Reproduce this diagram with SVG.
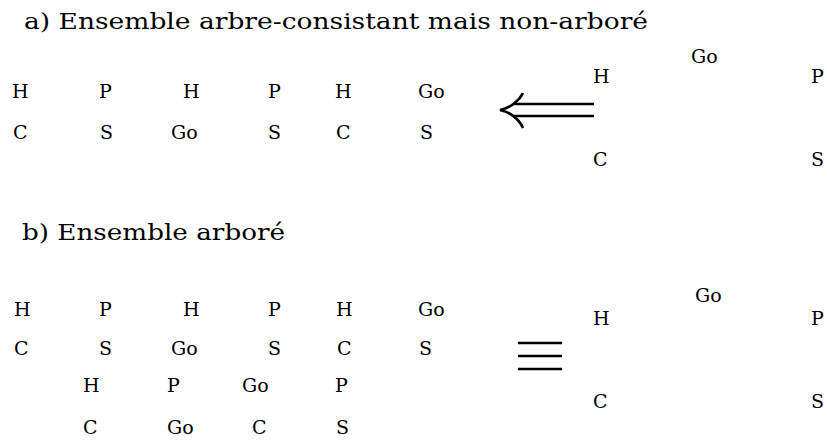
<svg xmlns="http://www.w3.org/2000/svg" width="827" height="444" viewBox="0 0 827 444">
<style>
.t{font-size:23px}
.l{font-size:19px}
.s{stroke:#000;fill:none;stroke-width:2.6}
</style>
<rect width="827" height="444" fill="#fff"/>
<g font-family="DejaVu Serif, Liberation Serif, serif" fill="#000">
<text class="t" x="24" y="29" textLength="624" lengthAdjust="spacingAndGlyphs">a) Ensemble arbre-consistant mais non-arboré</text>
<text class="t" x="22" y="240" textLength="263" lengthAdjust="spacingAndGlyphs">b) Ensemble arboré</text>
<g id="a-left">
<text class="l" x="12" y="98">H</text><text class="l" x="99" y="98">P</text><text class="l" x="183" y="98">H</text><text class="l" x="268" y="98">P</text><text class="l" x="335" y="98">H</text><text class="l" x="418" y="98">Go</text>
<text class="l" x="13" y="139">C</text><text class="l" x="100" y="139">S</text><text class="l" x="171" y="139">Go</text><text class="l" x="268" y="139">S</text><text class="l" x="336" y="139">C</text><text class="l" x="420" y="139">S</text>
</g>
<g id="a-right">
<text class="l" x="691" y="63">Go</text><text class="l" x="593" y="83">H</text><text class="l" x="811" y="83">P</text>
<text class="l" x="593" y="166">C</text><text class="l" x="811" y="166">S</text>
</g>
<g id="b-left">
<text class="l" x="14" y="316">H</text><text class="l" x="99" y="316">P</text><text class="l" x="183" y="316">H</text><text class="l" x="268" y="316">P</text><text class="l" x="336" y="316">H</text><text class="l" x="418" y="316">Go</text>
<text class="l" x="14" y="355">C</text><text class="l" x="99" y="355">S</text><text class="l" x="171" y="355">Go</text><text class="l" x="268" y="355">S</text><text class="l" x="337" y="355">C</text><text class="l" x="419" y="355">S</text>
<text class="l" x="83" y="392">H</text><text class="l" x="167" y="392">P</text><text class="l" x="242" y="392">Go</text><text class="l" x="335" y="392">P</text>
<text class="l" x="83" y="434">C</text><text class="l" x="167" y="434">Go</text><text class="l" x="252" y="434">C</text><text class="l" x="336" y="434">S</text>
</g>
<g id="b-right">
<text class="l" x="695" y="302">Go</text><text class="l" x="593" y="325">H</text><text class="l" x="811" y="325">P</text>
<text class="l" x="593" y="408">C</text><text class="l" x="811" y="408">S</text>
</g>
</g>
<g id="connectors">
<path class="s" d="M514,104 H594 M514,116 H594"/>
<path class="s" d="M523,93 C519,101 510,108 500,110 C510,112 519,119 523,128"/>
<path class="s" stroke-width="3" d="M518,343 H562 M518,356 H562 M518,369 H562"/>
</g>
</svg>
